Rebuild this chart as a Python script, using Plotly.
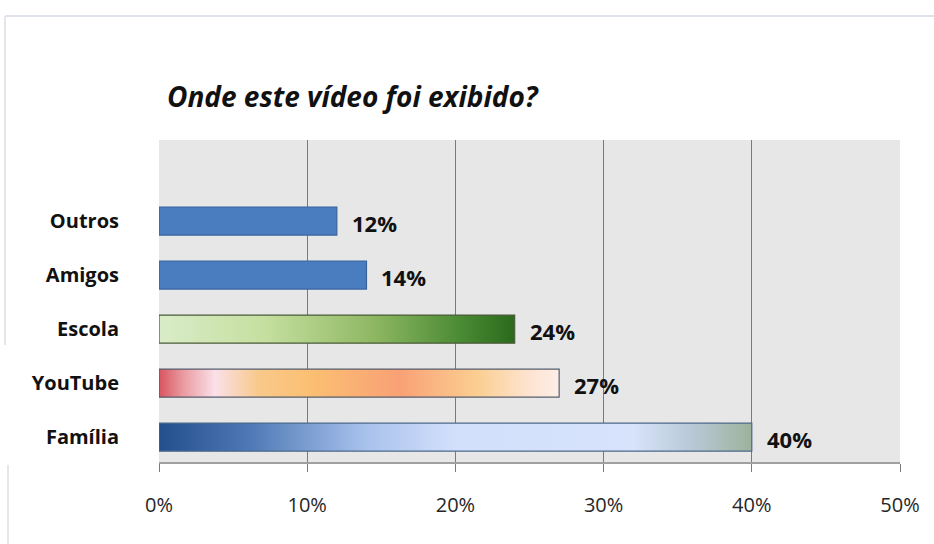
import plotly.graph_objects as go

# ---- data ----
categories = ["Família", "YouTube", "Escola", "Amigos", "Outros"]
values = [40, 27, 24, 14, 12]
x_ticks = [0, 10, 20, 30, 40, 50]
title_text = "Onde este vídeo foi exibido?"

# ---- styles ----
bar_styles = {
    "Família": dict(grad=[[0, "#234f8c"], [0.15, "#4d78b5"], [0.35, "#a9c2ec"], [0.5, "#d3e0fb"],
                          [0.8, "#d7e3fb"], [0.9, "#b8c8d6"], [1, "#9db39c"]], line="#4d6a8a"),
    "YouTube": dict(grad=[[0, "#d9545f"], [0.06, "#ea9aa0"], [0.14, "#fae0e8"], [0.25, "#f9c98a"],
                          [0.38, "#fbbf72"], [0.6, "#f9a176"], [0.8, "#fbcf92"], [0.92, "#fde3cf"],
                          [1, "#fdeee6"]], line="#555d6e"),
    "Escola": dict(grad=[[0, "#d9ecc8"], [0.3, "#c5df9f"], [0.6, "#8fb863"], [0.85, "#4a8a33"],
                         [1, "#2a6a1c"]], line="#4b5b3b"),
    "Amigos": dict(solid="#4a7dbf", line="#3a64a0"),
    "Outros": dict(solid="#4a7dbf", line="#3a64a0"),
}
half_h = 0.26
FONT = "Open Sans"

W, H = 934, 544
L, R, T, B = 159, 34, 140, 82

fig = go.Figure()
for i, (cat, v) in enumerate(zip(categories, values)):
    st = bar_styles[cat]
    xs = [0, v, v, 0, 0]
    ys = [i - half_h, i - half_h, i + half_h, i + half_h, i - half_h]
    kw = dict(x=xs, y=ys, mode="lines", fill="toself",
              line=dict(color=st["line"], width=1.2), showlegend=False, hoverinfo="skip")
    if "grad" in st:
        kw["fillgradient"] = dict(type="horizontal", colorscale=st["grad"])
    else:
        kw["fillcolor"] = st["solid"]
    fig.add_trace(go.Scatter(**kw))
    fig.add_annotation(x=v, y=i, text=f"{v}%", showarrow=False, xanchor="left", xshift=13,
                       yshift=-2, font=dict(family=FONT, size=22, color="#111111", weight="bold"))

pw = W - L - R
ph = H - T - B
def px_x(p):
    return (p - L) / pw
def px_y(p):
    return (H - B - p) / ph

# faint outer frame
fig.add_shape(type="line", xref="paper", yref="paper", x0=px_x(5), x1=px_x(934), y0=px_y(16), y1=px_y(16),
              line=dict(color="#dfe3ee", width=2), layer="below")
fig.add_shape(type="line", xref="paper", yref="paper", x0=px_x(5), x1=px_x(5), y0=px_y(16), y1=px_y(345),
              line=dict(color="#e6e6e6", width=2), layer="below")
fig.add_shape(type="line", xref="paper", yref="paper", x0=px_x(8), x1=px_x(8), y0=px_y(465), y1=px_y(544),
              line=dict(color="#e6e6e6", width=2), layer="below")

fig.add_annotation(xref="paper", yref="paper", x=px_x(165), y=px_y(96), text=title_text,
                   showarrow=False, xanchor="left", yanchor="middle",
                   font=dict(family=FONT, size=28, color="#111111", weight="bold", style="italic"))

fig.update_layout(
    width=W, height=H,
    margin=dict(l=L, r=R, t=T, b=B),
    paper_bgcolor="white",
    plot_bgcolor="#e7e7e7",
)
fig.update_xaxes(range=[0, 50], tickvals=x_ticks, ticktext=[f"{t}%" for t in x_ticks],
                 showgrid=True, gridcolor="#7a7a7a", gridwidth=1.3, zeroline=False,
                 showline=True, linecolor="#a0a0a0", linewidth=2,
                 ticks="outside", ticklen=8, tickcolor="#7a7a7a", tickwidth=1.3,
                 ticklabelstandoff=16,
                 tickfont=dict(family=FONT, size=20, color="#262626"))
fig.update_yaxes(range=[-0.46, 5.5], tickvals=list(range(len(categories))), ticktext=categories,
                 showgrid=False, zeroline=False, showline=False, ticks="",
                 ticklabelstandoff=39,
                 tickfont=dict(family=FONT, size=20, color="#111111", weight="bold"))

fig.write_html("out.html")
